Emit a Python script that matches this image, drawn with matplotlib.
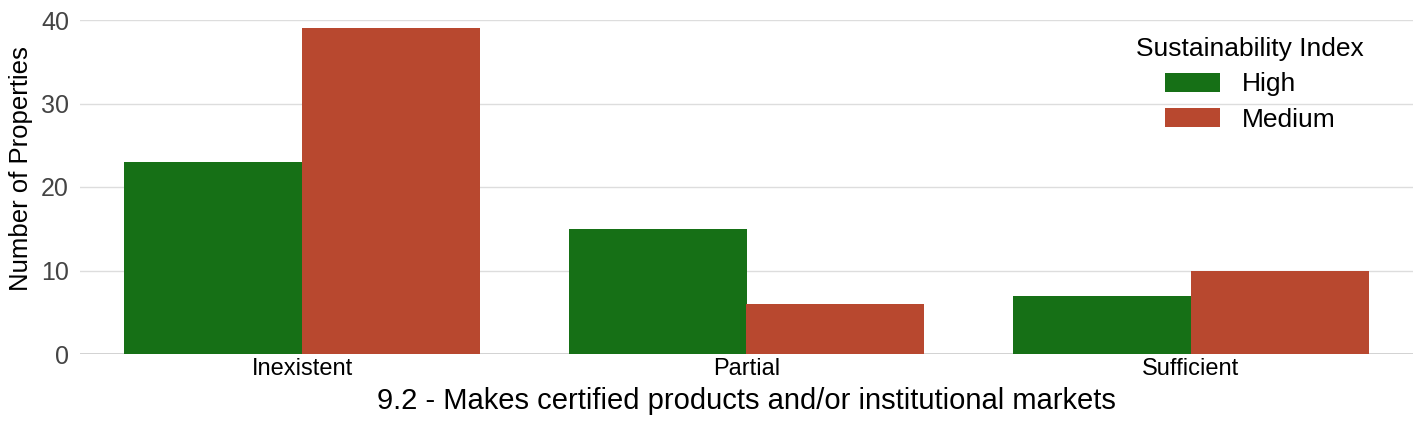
import matplotlib
matplotlib.use("Agg")
import matplotlib.pyplot as plt
import numpy as np

plt.rcParams['font.family'] = ['Liberation Sans', 'DejaVu Sans']

categories = ['Inexistent', 'Partial', 'Sufficient']
high = [23, 15, 7]
medium = [39, 6, 10]
series_names = ['High', 'Medium']
colors = ['#167016', '#b8482f']

fig = plt.figure(figsize=(14.23, 4.28), dpi=100)
ax = fig.add_axes([80 / 1423, 1 - 354 / 428, (1413 - 80) / 1423, (354 - 20) / 428])

x = np.arange(len(categories))
w = 0.4
ax.bar(x - w / 2, high, w, color=colors[0], label=series_names[0], zorder=3)
ax.bar(x + w / 2, medium, w, color=colors[1], label=series_names[1], zorder=3)

ax.set_xlim(-0.5, 2.5)
ax.set_ylim(0, 40)
ax.set_yticks([0, 10, 20, 30, 40])
ax.set_xticks(x)
ax.set_xticklabels(categories, fontsize=17, color='black')
ax.tick_params(axis='y', labelsize=18, colors='#444444', length=0, pad=8)
ax.tick_params(axis='x', length=0, pad=3)
ax.grid(axis='y', color='#dddddd', linewidth=1, zorder=0)
for s in ax.spines.values():
    s.set_visible(False)
ax.axhline(0, color='#cccccc', linewidth=1.2, zorder=2)

ax.set_ylabel('Number of Properties', fontsize=18.5, color='black')
ax.yaxis.set_label_coords(-0.035, 0.554)
ax.set_xlabel('9.2 - Makes certified products and/or institutional markets', fontsize=21, color='black', labelpad=5)

leg = ax.legend(title='Sustainability Index', frameon=False, fontsize=19, title_fontsize=19,
                loc='upper right', bbox_to_anchor=(0.981, 1.02), handlelength=2.1, handleheight=0.75,
                handletextpad=0.8, labelspacing=0.43)
leg._legend_box.align = 'center'

fig.savefig('out.png', dpi=100)
